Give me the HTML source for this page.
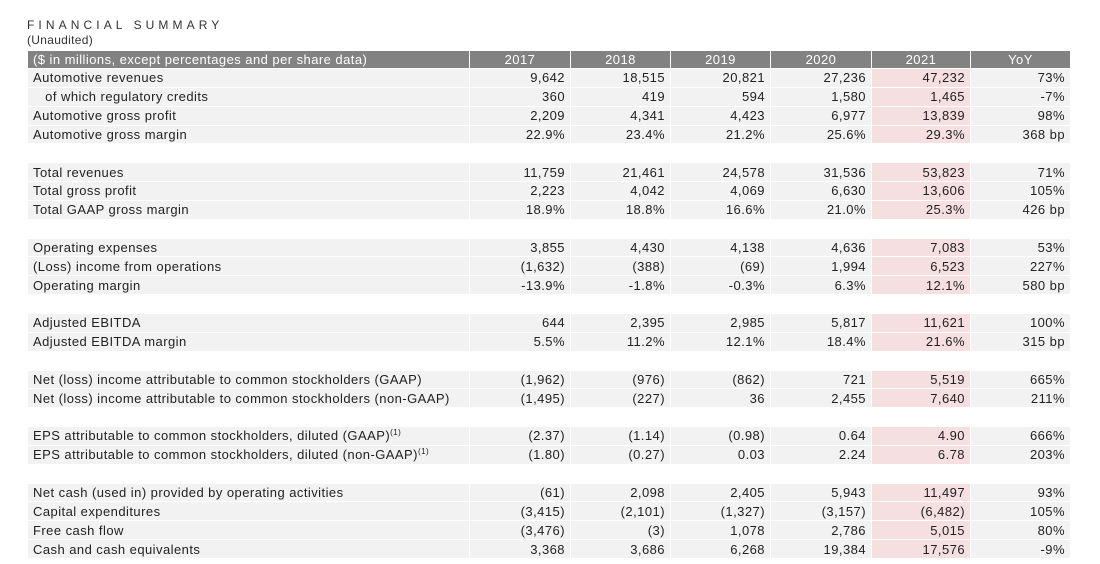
<!DOCTYPE html>
<html><head><meta charset="utf-8"><style>
body{margin:0;background:#fff;width:1100px;height:564px;overflow:hidden;font-family:"Liberation Sans",sans-serif;color:#222}
.t1{position:absolute;left:27px;top:18px;font-size:12px;letter-spacing:4.1px;color:#333}
.t2{position:absolute;left:27px;top:33px;font-size:12px;color:#333;letter-spacing:0.3px}
table{position:absolute;left:27px;top:50px;border-collapse:collapse;table-layout:fixed;width:1043px}
td{height:17.85px;padding:0 5px;border:1px solid #fff;background:#f2f2f2;font-size:13px;letter-spacing:0.45px;text-align:right;white-space:nowrap;line-height:17px}
td:first-child{text-align:left}
td:nth-child(6){background:#f5dfe0}
tr.h td{background:#828282;color:#fff;text-align:center;height:17px}
tr.h td:first-child{text-align:left}
tr.b td{background:#fff}
sup{font-size:8px;vertical-align:5px;line-height:0}
</style></head><body>
<div class="t1">FINANCIAL SUMMARY</div>
<div class="t2">(Unaudited)</div>
<table>
<colgroup><col style="width:442px"><col style="width:101px"><col style="width:100px"><col style="width:100px"><col style="width:101px"><col style="width:99px"><col style="width:100px"></colgroup>
<tr class="h"><td>($ in millions, except percentages and per share data)</td><td>2017</td><td>2018</td><td>2019</td><td>2020</td><td>2021</td><td>YoY</td></tr>
<tr><td>Automotive revenues</td><td>9,642</td><td>18,515</td><td>20,821</td><td>27,236</td><td>47,232</td><td>73%</td></tr>
<tr><td>&nbsp;&nbsp;&nbsp;of which regulatory credits</td><td>360</td><td>419</td><td>594</td><td>1,580</td><td>1,465</td><td>-7%</td></tr>
<tr><td>Automotive gross profit</td><td>2,209</td><td>4,341</td><td>4,423</td><td>6,977</td><td>13,839</td><td>98%</td></tr>
<tr><td>Automotive gross margin</td><td>22.9%</td><td>23.4%</td><td>21.2%</td><td>25.6%</td><td>29.3%</td><td>368 bp</td></tr>
<tr class="b"><td></td><td></td><td></td><td></td><td></td><td></td><td></td></tr>
<tr><td>Total revenues</td><td>11,759</td><td>21,461</td><td>24,578</td><td>31,536</td><td>53,823</td><td>71%</td></tr>
<tr><td>Total gross profit</td><td>2,223</td><td>4,042</td><td>4,069</td><td>6,630</td><td>13,606</td><td>105%</td></tr>
<tr><td>Total GAAP gross margin</td><td>18.9%</td><td>18.8%</td><td>16.6%</td><td>21.0%</td><td>25.3%</td><td>426 bp</td></tr>
<tr class="b"><td></td><td></td><td></td><td></td><td></td><td></td><td></td></tr>
<tr><td>Operating expenses</td><td>3,855</td><td>4,430</td><td>4,138</td><td>4,636</td><td>7,083</td><td>53%</td></tr>
<tr><td>(Loss) income from operations</td><td>(1,632)</td><td>(388)</td><td>(69)</td><td>1,994</td><td>6,523</td><td>227%</td></tr>
<tr><td>Operating margin</td><td>-13.9%</td><td>-1.8%</td><td>-0.3%</td><td>6.3%</td><td>12.1%</td><td>580 bp</td></tr>
<tr class="b"><td></td><td></td><td></td><td></td><td></td><td></td><td></td></tr>
<tr><td>Adjusted EBITDA</td><td>644</td><td>2,395</td><td>2,985</td><td>5,817</td><td>11,621</td><td>100%</td></tr>
<tr><td>Adjusted EBITDA margin</td><td>5.5%</td><td>11.2%</td><td>12.1%</td><td>18.4%</td><td>21.6%</td><td>315 bp</td></tr>
<tr class="b"><td></td><td></td><td></td><td></td><td></td><td></td><td></td></tr>
<tr><td>Net (loss) income attributable to common stockholders (GAAP)</td><td>(1,962)</td><td>(976)</td><td>(862)</td><td>721</td><td>5,519</td><td>665%</td></tr>
<tr><td>Net (loss) income attributable to common stockholders (non-GAAP)</td><td>(1,495)</td><td>(227)</td><td>36</td><td>2,455</td><td>7,640</td><td>211%</td></tr>
<tr class="b"><td></td><td></td><td></td><td></td><td></td><td></td><td></td></tr>
<tr><td>EPS attributable to common stockholders, diluted (GAAP)<sup>(1)</sup></td><td>(2.37)</td><td>(1.14)</td><td>(0.98)</td><td>0.64</td><td>4.90</td><td>666%</td></tr>
<tr><td>EPS attributable to common stockholders, diluted (non-GAAP)<sup>(1)</sup></td><td>(1.80)</td><td>(0.27)</td><td>0.03</td><td>2.24</td><td>6.78</td><td>203%</td></tr>
<tr class="b"><td></td><td></td><td></td><td></td><td></td><td></td><td></td></tr>
<tr><td>Net cash (used in) provided by operating activities</td><td>(61)</td><td>2,098</td><td>2,405</td><td>5,943</td><td>11,497</td><td>93%</td></tr>
<tr><td>Capital expenditures</td><td>(3,415)</td><td>(2,101)</td><td>(1,327)</td><td>(3,157)</td><td>(6,482)</td><td>105%</td></tr>
<tr><td>Free cash flow</td><td>(3,476)</td><td>(3)</td><td>1,078</td><td>2,786</td><td>5,015</td><td>80%</td></tr>
<tr><td>Cash and cash equivalents</td><td>3,368</td><td>3,686</td><td>6,268</td><td>19,384</td><td>17,576</td><td>-9%</td></tr>
</table>
</body></html>
